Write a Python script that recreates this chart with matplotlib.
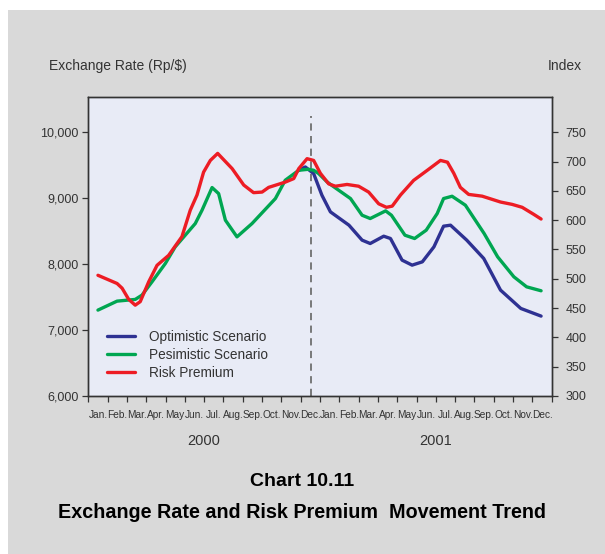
import matplotlib
matplotlib.use("Agg")
import matplotlib.pyplot as plt
from matplotlib import font_manager
from matplotlib.ticker import FuncFormatter, FixedLocator

# ---- data -------------------------------------------------------------
months = ["Jan.", "Feb.", "Mar.", "Apr.", "May", "Jun.", "Jul.", "Aug.",
          "Sep.", "Oct.", "Nov.", "Dec."]
years = ["2000", "2001"]

# positions in months from the start of Jan 2000
optimistic_x = [10.9, 11.24, 11.67, 12.1, 12.54, 13.5, 14.18, 14.6, 15.3, 15.65,
                16.25, 16.77, 17.3, 17.9, 18.4, 18.76, 19.6, 20.48, 21.35, 22.4, 23.45]
optimistic = [9424, 9474, 9374, 9045, 8793, 8591, 8364, 8313, 8424, 8389,
              8061, 7985, 8035, 8262, 8576, 8591, 8364, 8086, 7606, 7328, 7212]

pesimistic_x = [0.5, 1.49, 2.43, 2.78, 3.3, 3.99, 4.5, 5.54, 5.89, 6.41, 6.75, 7.1,
                7.7, 8.48, 9.69, 10.2, 10.9, 11.4, 11.67, 11.93, 12.37, 12.6, 13.58,
                14.18, 14.6, 15.4, 15.7, 16.4, 16.9, 17.5, 18.07, 18.4, 18.84, 19.53,
                20.5, 21.2, 22.04, 22.7, 23.45]
pesimistic = [7303, 7439, 7465, 7530, 7732, 8010, 8262, 8616, 8818, 9162, 9070, 8667,
              8414, 8616, 8995, 9273, 9424, 9439, 9424, 9374, 9247, 9197, 8995,
              8742, 8692, 8808, 8742, 8439, 8389, 8515, 8768, 8995, 9030, 8894,
              8465, 8111, 7808, 7656, 7596]

risk_x = [0.5, 1.49, 1.75, 2.09, 2.43, 2.69, 3.13, 3.56, 4.16, 4.85, 5.28, 5.63,
          5.97, 6.32, 6.7, 7.45, 8.05, 8.56, 9.0, 9.34, 10.2, 10.64, 10.9, 11.33,
          11.67, 12.02, 12.45, 12.8, 13.4, 14.0, 14.52, 15.04, 15.44, 15.74, 16.17,
          16.85, 17.55, 18.24, 18.6, 18.93, 19.27, 19.7, 20.4, 21.35, 21.95, 22.47,
          23.07, 23.45]
risk_premium = [506, 492, 484, 465, 455, 461, 495, 523, 540, 572, 617, 643,
                682, 702, 714, 688, 660, 647, 648, 656, 665, 671, 688, 705,
                702, 680, 662, 658, 661, 658, 648, 628, 622, 624, 643,
                668, 685, 702, 699, 680, 656, 644, 641, 631, 627, 622,
                610, 602]

forecast_start = 11.55

rate_ticks = [6000, 7000, 8000, 9000, 10000]
index_ticks = [300, 350, 400, 450, 500, 550, 600, 650, 700, 750]

# ---- fonts ------------------------------------------------------------
available = {f.name for f in font_manager.fontManager.ttflist}
base_font = "Liberation Sans" if "Liberation Sans" in available else "DejaVu Sans"
narrow_font = "Liberation Sans Narrow" if "Liberation Sans Narrow" in available else base_font
plt.rcParams["font.family"] = [base_font, "DejaVu Sans"]

text_col = "#333333"
spine_col = "#333333"
fig_bg = "#d9d9d9"
ax_bg = "#e8ebf6"

W, H = 605, 554
fig = plt.figure(figsize=(W / 100, H / 100), dpi=100, facecolor="white")
# grey panel with a thin white margin on the top and left
fig.patches.append(plt.Rectangle((8 / W, 0), 1 - 8 / W, 1 - 10 / H,
                                 transform=fig.transFigure, facecolor=fig_bg,
                                 edgecolor="none", zorder=-10))

left, right, top, bottom = 88.3, 551.7, 96.7, 396.0
ax = fig.add_axes([left / W, 1 - bottom / H, (right - left) / W, (bottom - top) / H])
ax.set_facecolor(ax_bg)

y_lo, y_hi = 6000, 10540
ax.set_xlim(0, 24)
ax.set_ylim(y_lo, y_hi)

ax2 = ax.twinx()
to_index = lambda v: 300 + (v - 6000) * 0.1125
ax2.set_ylim(to_index(y_lo), to_index(y_hi))

# forecast divider
ax.vlines(forecast_start, 6000, 10250, colors="#6f6f6f", linestyles=(0, (4, 3)),
          linewidth=1.3, zorder=1)

lw = 2.4
l_risk, = ax2.plot(risk_x, risk_premium, color="#ed1c24", lw=lw,
                   solid_joinstyle="round", solid_capstyle="round", zorder=3)
l_opt, = ax.plot(optimistic_x, optimistic, color="#2e3192", lw=lw,
                 solid_joinstyle="round", solid_capstyle="round", zorder=3)
l_pes, = ax.plot(pesimistic_x, pesimistic, color="#00a651", lw=lw,
                 solid_joinstyle="round", solid_capstyle="round", zorder=4)
ax.set_zorder(2)
ax2.set_zorder(3)
ax2.patch.set_visible(False)

# axes styling
for a in (ax, ax2):
    for s in a.spines.values():
        s.set_color(spine_col)
        s.set_linewidth(1.0)

ax.set_yticks(rate_ticks)
ax.yaxis.set_major_formatter(FuncFormatter(lambda v, p: f"{int(v):,}"))
ax.tick_params(axis="y", direction="out", length=4, width=0.9, color=spine_col,
               pad=3, labelsize=9, labelcolor=text_col)
for t in ax.get_yticklabels():
    t.set_fontfamily(narrow_font)

ax2.set_yticks(index_ticks)
ax2.tick_params(axis="y", direction="out", length=4, width=0.9, color=spine_col,
                pad=6, labelsize=9, labelcolor=text_col)
for t in ax2.get_yticklabels():
    t.set_fontfamily(narrow_font)

ax.xaxis.set_major_locator(FixedLocator(range(25)))
ax.xaxis.set_minor_locator(FixedLocator([i + 0.5 for i in range(24)]))
ax.set_xticklabels([""] * 25)
ax.set_xticklabels(months * 2, minor=True)
ax.tick_params(axis="x", which="major", direction="out", length=4, width=0.9,
               color=spine_col)
ax.tick_params(axis="x", which="minor", length=0, pad=10, labelsize=7.3,
               labelcolor=text_col)
for t in ax.get_xticklabels(minor=True):
    t.set_fontfamily(narrow_font)

# year labels
for i, yr in enumerate(years):
    fig.text((left + (6 + 12 * i) * (right - left) / 24) / W, 1 - 441 / H, yr,
             ha="center", va="center", fontsize=10.5, color=text_col)

# axis captions
fig.text(49 / W, 1 - 66 / H, "Exchange Rate (Rp/$)", ha="left", va="center",
         fontsize=10, color=text_col)
fig.text(582 / W, 1 - 66 / H, "Index", ha="right", va="center",
         fontsize=10, color=text_col)

# legend
leg = ax.legend([l_opt, l_pes, l_risk],
                ["Optimistic Scenario", "Pesimistic Scenario", "Risk Premium"],
                loc="center left", bbox_to_anchor=(0.04, 0.137), frameon=False,
                fontsize=9.8, handlelength=2.1, handletextpad=1.0,
                labelspacing=0.3, borderpad=0, borderaxespad=0)
for t in leg.get_texts():
    t.set_color(text_col)

# titles
fig.text(0.5, 1 - 481 / H, "Chart 10.11", ha="center", va="center",
         fontsize=14, fontweight="bold", color="black")
fig.text(0.5, 1 - 512 / H, "Exchange Rate and Risk Premium  Movement Trend",
         ha="center", va="center", fontsize=14.2, fontweight="bold", color="black")

fig.savefig("out.png", dpi=100, facecolor=fig.get_facecolor())
